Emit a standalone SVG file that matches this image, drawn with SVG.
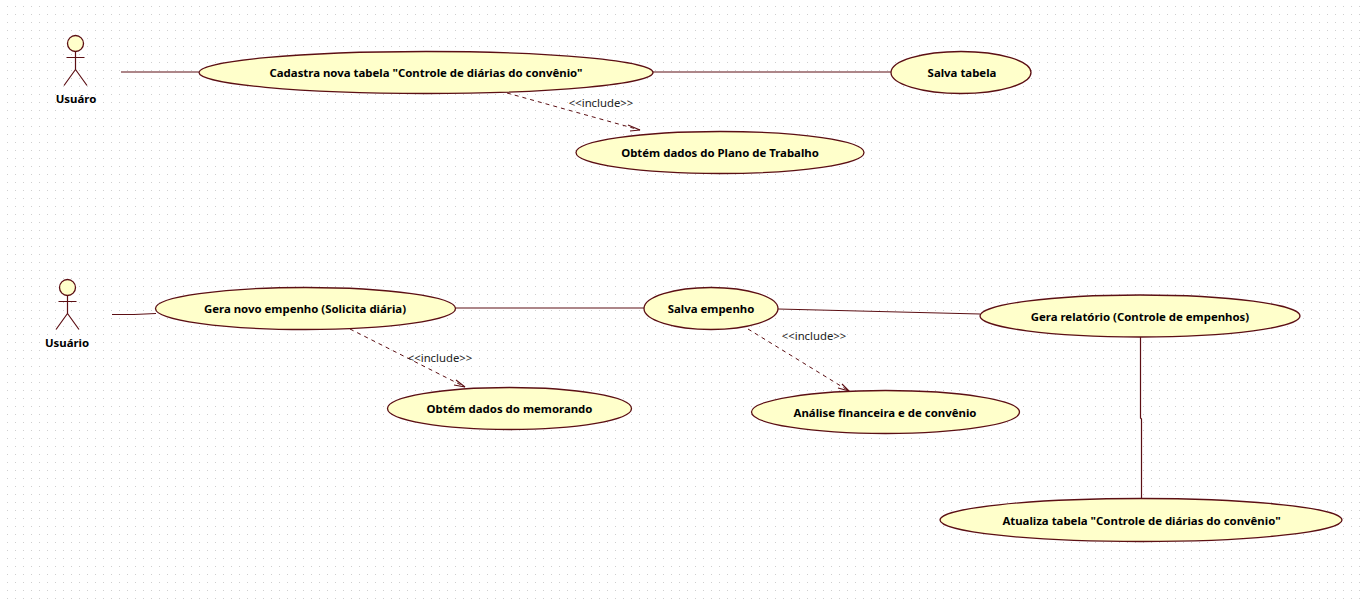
<svg xmlns="http://www.w3.org/2000/svg" width="1364" height="600" viewBox="0 0 1364 600">
<style>
.uc{fill:#ffffcb;stroke:#5c0f14;stroke-width:1.3}
.l{fill:none;stroke:#5c0f14;stroke-width:1.2}
.d{fill:none;stroke:#5c0f14;stroke-width:1;stroke-dasharray:4 4}
.a{fill:none;stroke:#5c0f14;stroke-width:1.1}
.t{font-family:"Noto Sans","Liberation Sans",sans-serif;font-size:11.4px;font-weight:700;fill:#000;text-anchor:middle}
.i{font-family:"Noto Sans","Liberation Sans",sans-serif;font-size:11.3px;fill:#222;text-anchor:middle}
</style>
<defs>
<pattern id="grid" width="8" height="8" patternUnits="userSpaceOnUse"><rect x="7" y="6" width="1" height="1" fill="#cfcfcf"/></pattern>
<g id="actor"><circle class="uc" cx="0" cy="8" r="8"/><path class="l" d="M0 16V34M-9 22H9M0 34L-11.500 50M0 34L11.500 50"/></g>
</defs>
<rect width="1364" height="600" fill="#fff"/>
<rect width="1364" height="600" fill="url(#grid)"/>
<g id="connectors">
<path class="l" d="M121 72H200"/>
<path class="l" d="M653 72H891"/>
<path class="d" d="M507 93L640 130"/>
<path class="a" d="M628 125L640 130L630 131"/>
<path class="l" d="M112 314.500H134L156 313.500"/>
<path class="l" d="M455 308H644"/>
<path class="l" d="M778 309L980 314"/>
<path class="d" d="M350 329L465 387"/>
<path class="a" d="M456 380L465 387L454 385"/>
<path class="d" d="M748 329L849 391"/>
<path class="a" d="M838 388L849 391L842 384"/>
<path class="l" d="M1140.500 337V418L1141.500 419V499"/>
</g>
<g id="actor1"><use href="#actor" x="75.500" y="35.500"/><text class="t" x="76" y="103">Usuáro</text></g>
<g id="actor2"><use href="#actor" x="67.500" y="279.500"/><text class="t" x="67" y="347">Usuário</text></g>
<g id="uc1"><ellipse class="uc" cx="426" cy="72.500" rx="227" ry="21"/><text class="t" x="426" y="77">Cadastra nova tabela "Controle de diárias do convênio"</text></g>
<g id="uc2"><ellipse class="uc" cx="961" cy="72.500" rx="70" ry="21"/><text class="t" x="962" y="77">Salva tabela</text></g>
<g id="uc3"><ellipse class="uc" cx="720" cy="152.500" rx="144" ry="21"/><text class="t" x="720" y="157">Obtém dados do Plano de Trabalho</text></g>
<g id="uc4"><ellipse class="uc" cx="305.500" cy="308.500" rx="150" ry="21"/><text class="t" x="305" y="313">Gera novo empenho (Solicita diária)</text></g>
<g id="uc5"><ellipse class="uc" cx="711" cy="308.500" rx="67" ry="21"/><text class="t" x="711" y="313">Salva empenho</text></g>
<g id="uc6"><ellipse class="uc" cx="1140" cy="316" rx="160" ry="21"/><text class="t" x="1140" y="321">Gera relatório (Controle de empenhos)</text></g>
<g id="uc7"><ellipse class="uc" cx="509.500" cy="408.500" rx="122" ry="21"/><text class="t" x="509.500" y="413">Obtém dados do memorando</text></g>
<g id="uc8"><ellipse class="uc" cx="885.500" cy="412" rx="134" ry="21.500"/><text class="t" x="885" y="417">Análise financeira e de convênio</text></g>
<g id="uc9"><ellipse class="uc" cx="1141" cy="520" rx="201" ry="21.500"/><text class="t" x="1141.500" y="525">Atualiza tabela "Controle de diárias do convênio"</text></g>
<g id="labels">
<text class="i" x="601" y="107">&lt;&lt;include&gt;&gt;</text>
<text class="i" x="440" y="362">&lt;&lt;include&gt;&gt;</text>
<text class="i" x="814" y="340">&lt;&lt;include&gt;&gt;</text>
</g>
</svg>
